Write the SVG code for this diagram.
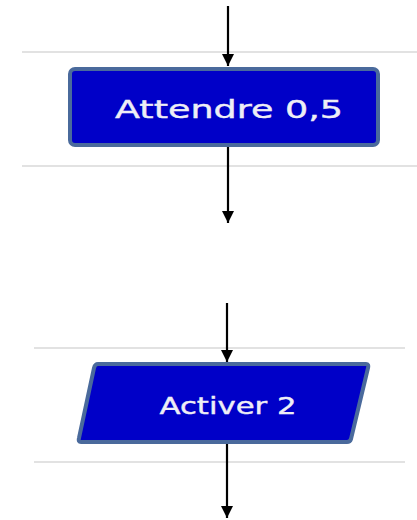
<svg xmlns="http://www.w3.org/2000/svg" width="417" height="520" viewBox="0 0 417 520">
<style>
.sep{stroke:#d8d8d8;stroke-width:1.5}
.box{fill:#0000c8;stroke:#4a6a9c;stroke-width:4}
.lbl{fill:#eeeef6;font-family:"DejaVu Sans",sans-serif;text-anchor:middle;stroke:#eeeef6;stroke-width:0.4}
.wire{stroke:#000;stroke-width:2.2;fill:none}
</style>
<defs>
<marker id="ah" markerWidth="13" markerHeight="13" refX="12" refY="6.5" orient="auto" markerUnits="userSpaceOnUse" viewBox="0 0 13 13">
<path d="M0,0.5 L12,6.5 L0,12.5 Z" fill="#000"/>
</marker>
</defs>
<rect width="417" height="520" fill="#fff"/>
<line class="sep" x1="22" y1="52" x2="417" y2="52"/>
<line class="sep" x1="22" y1="166" x2="417" y2="166"/>
<line class="sep" x1="34" y1="348" x2="405" y2="348"/>
<line class="sep" x1="34" y1="462" x2="405" y2="462"/>
<g id="connectors">
<line class="wire" x1="228" y1="6" x2="228" y2="66" marker-end="url(#ah)"/>
<line class="wire" x1="228" y1="146" x2="228" y2="223" marker-end="url(#ah)"/>
<line class="wire" x1="227" y1="303" x2="227" y2="362" marker-end="url(#ah)"/>
<line class="wire" x1="227" y1="442" x2="227" y2="518" marker-end="url(#ah)"/>
</g>
<g id="node-attendre">
<rect class="box" x="70" y="69" width="308" height="76" rx="5"/>
<text class="lbl" x="229" y="118" font-size="25" textLength="228" lengthAdjust="spacingAndGlyphs">Attendre 0,5</text>
</g>
<g id="node-activer">
<path class="box" d="M98,364 L366,364 Q369,364 368,368 L351,439 Q350,442 347,442 L81,442 Q78,442 79,438 L94,368 Q95,364 98,364 Z"/>
<text class="lbl" x="228" y="414" font-size="23" textLength="137" lengthAdjust="spacingAndGlyphs">Activer 2</text>
</g>
</svg>
